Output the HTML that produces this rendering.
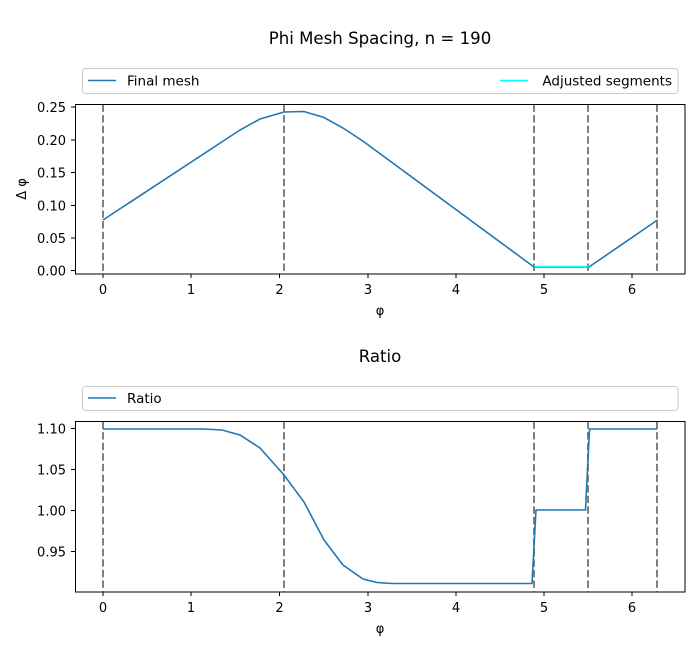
<!DOCTYPE html><html><head><style>body{margin:0;background:#fff}svg{display:block}text{font-family:"DejaVu Sans","Liberation Sans",sans-serif;fill:#000}</style></head><body>
<svg width="700" height="650" xmlns="http://www.w3.org/2000/svg">
<text x="380" y="44" font-size="16.6" text-anchor="middle">Phi Mesh Spacing, n = 190</text>
<rect x="82.5" y="68.5" width="595.5" height="25" rx="3" fill="#fff" stroke="#ccc"/>
<line x1="88" y1="80.5" x2="116" y2="80.5" stroke="#1f77b4" stroke-width="1.5"/>
<text x="127" y="85.5" font-size="13.5">Final mesh</text>
<line x1="500" y1="80.5" x2="528" y2="80.5" stroke="cyan" stroke-width="1.5"/>
<text x="672" y="85.5" font-size="13.5" text-anchor="end">Adjusted segments</text>
<g stroke="#808080" stroke-width="2" stroke-dasharray="7.4,3.2">
<line x1="103" y1="104.5" x2="103" y2="274"/><line x1="284" y1="104.5" x2="284" y2="274"/><line x1="534" y1="104.5" x2="534" y2="274"/><line x1="588" y1="104.5" x2="588" y2="274"/><line x1="657" y1="104.5" x2="657" y2="274"/>
</g>
<polyline fill="none" stroke="#1f77b4" stroke-width="1.6" points="103,220 240,130 260,119 284,112 304,111.5 324,117.5 343,128 363.5,141.5 534,267 589,267 657.5,220"/>
<line x1="534" y1="266.5" x2="589" y2="266.5" stroke="cyan" stroke-width="1.6"/>
<rect x="75.5" y="104.5" width="609.5" height="169.5" fill="none" stroke="#000" stroke-width="1"/>
<g font-size="13" text-anchor="end">
<text x="66" y="275.5">0.00</text><text x="66" y="243">0.05</text><text x="66" y="210.5">0.10</text><text x="66" y="177.5">0.15</text><text x="66" y="145">0.20</text><text x="66" y="112">0.25</text></g>
<g stroke="#000"><line x1="71" y1="270.5" x2="75" y2="270.5"/><line x1="71" y1="238" x2="75" y2="238"/><line x1="71" y1="205.5" x2="75" y2="205.5"/><line x1="71" y1="172.5" x2="75" y2="172.5"/><line x1="71" y1="140" x2="75" y2="140"/><line x1="71" y1="107" x2="75" y2="107"/>
<line x1="103" y1="274" x2="103" y2="278"/><line x1="191" y1="274" x2="191" y2="278"/><line x1="279.5" y1="274" x2="279.5" y2="278"/><line x1="368" y1="274" x2="368" y2="278"/><line x1="456" y1="274" x2="456" y2="278"/><line x1="544" y1="274" x2="544" y2="278"/><line x1="632" y1="274" x2="632" y2="278"/></g>
<g font-size="13" text-anchor="middle"><text x="103" y="294">0</text><text x="191" y="294">1</text><text x="279.5" y="294">2</text><text x="368" y="294">3</text><text x="456" y="294">4</text><text x="544" y="294">5</text><text x="632" y="294">6</text><text x="380" y="315">φ</text></g>
<text transform="translate(26,189) rotate(-90)" font-size="13" text-anchor="middle">Δ φ</text>

<text x="380" y="362" font-size="16.6" text-anchor="middle">Ratio</text>
<rect x="82.5" y="386.5" width="595.5" height="24" rx="3" fill="#fff" stroke="#ccc"/>
<line x1="88" y1="398" x2="116" y2="398" stroke="#1f77b4" stroke-width="1.5"/>
<text x="127" y="403" font-size="13.5">Ratio</text>
<g stroke="#808080" stroke-width="2" stroke-dasharray="7.4,3.2">
<line x1="103" y1="421.5" x2="103" y2="592"/><line x1="284" y1="421.5" x2="284" y2="592"/><line x1="534" y1="421.5" x2="534" y2="592"/><line x1="588" y1="421.5" x2="588" y2="592"/><line x1="657" y1="421.5" x2="657" y2="592"/>
</g>
<polyline fill="none" stroke="#1f77b4" stroke-width="1.6" points="103,429 203,429 222,430 240,435 260,448 284,475 304,502 324,540 343,565 363,579 377,582.5 392,583.5 532,583.5 536,510 585.5,510 589.5,429 657,429"/>
<rect x="75.5" y="421.5" width="609.5" height="170.5" fill="none" stroke="#000" stroke-width="1"/>
<g font-size="13" text-anchor="end"><text x="66" y="433.5">1.10</text><text x="66" y="474.5">1.05</text><text x="66" y="515.5">1.00</text><text x="66" y="556.5">0.95</text></g>
<g stroke="#000"><line x1="71" y1="428.5" x2="75" y2="428.5"/><line x1="71" y1="469.5" x2="75" y2="469.5"/><line x1="71" y1="510.5" x2="75" y2="510.5"/><line x1="71" y1="551.5" x2="75" y2="551.5"/>
<line x1="103" y1="592" x2="103" y2="596"/><line x1="191" y1="592" x2="191" y2="596"/><line x1="279.5" y1="592" x2="279.5" y2="596"/><line x1="368" y1="592" x2="368" y2="596"/><line x1="456" y1="592" x2="456" y2="596"/><line x1="544" y1="592" x2="544" y2="596"/><line x1="632" y1="592" x2="632" y2="596"/></g>
<g font-size="13" text-anchor="middle"><text x="103" y="612">0</text><text x="191" y="612">1</text><text x="279.5" y="612">2</text><text x="368" y="612">3</text><text x="456" y="612">4</text><text x="544" y="612">5</text><text x="632" y="612">6</text><text x="380" y="633">φ</text></g>
</svg></body></html>
